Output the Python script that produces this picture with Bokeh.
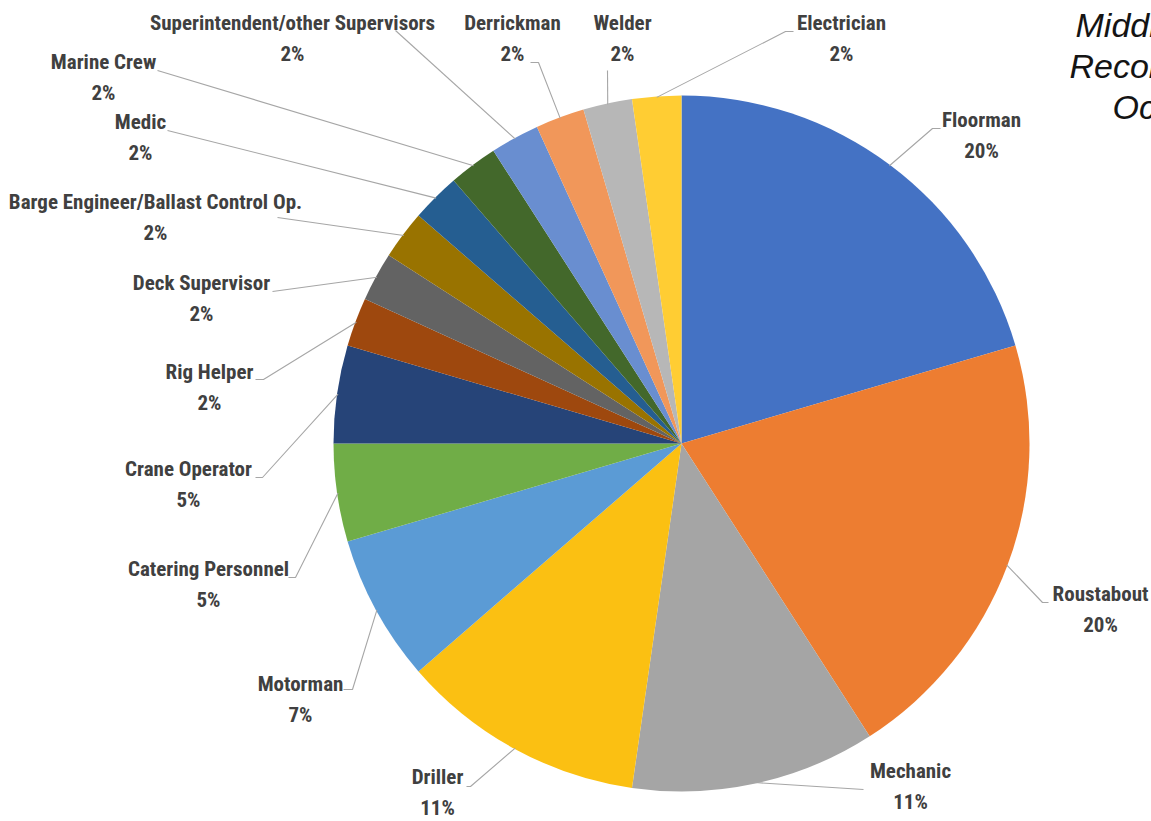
import math
from bokeh.plotting import figure
from bokeh.models import ColumnDataSource, Range1d
from bokeh.core.properties import value
from bokeh.embed import file_html
from bokeh.resources import INLINE

# ---------------- data ----------------
occupations = [
    "Floorman", "Roustabout", "Mechanic", "Driller", "Motorman",
    "Catering Personnel", "Crane Operator", "Rig Helper", "Deck Supervisor",
    "Barge Engineer/Ballast Control Op.", "Medic", "Marine Crew",
    "Superintendent/other Supervisors", "Derrickman", "Welder", "Electrician",
]
counts = [9, 9, 5, 5, 3, 2, 2, 1, 1, 1, 1, 1, 1, 1, 1, 1]
colors = [
    "#4472C4", "#ED7D31", "#A5A5A5", "#FBC012", "#5B9BD5", "#70AD47",
    "#264478", "#9E480E", "#636363", "#997300", "#255E91", "#43682B",
    "#698ED0", "#F1975A", "#B7B7B7", "#FFCD33",
]
title_lines = ["Middle East Offshore", "Recordable Incidents by", "Occupation"]

# ---------------- layout (page pixel coordinates) ----------------
W, H = 1151, 821
CX, CY, R = 681, 443, 348

label_x = [981, 1100, 910, 437, 300, 208, 188, 209, 201, 155, 140, 103, 292, 512, 622, 841]
name_base = [128, 602, 779, 785, 692, 577, 477, 380, 291, 210, 130, 70, 31, 31, 31, 31]
line_gap = 31
anchor_x = [940, 1048, 863, 466, 343, 288, 255, 255, 272, 277, 167, 157, 395, 530, 607, 793]
anchor_y = [128, 602, 789, 786, 689, 577, 477, 379, 291, 217, 130, 70, 30, 62, 70, 31]
elbow_x = [932, 1042, 863, 470, 352, 295, 262, 263, 272, 277, 167, 157, 395, 538, 607, 785]
elbow_y = [128, 602, 789, 786, 689, 577, 477, 379, 291, 217, 130, 70, 30, 62, 70, 31]
title_x = [1075, 1069, 1112]
title_base = [39, 80, 121]

LABEL_FONT = "'Roboto Condensed', 'DejaVu Sans Condensed', 'Liberation Sans Narrow', Roboto, sans-serif"
LABEL_SIZE = 21
TITLE_SIZE = 34
BASE_SHIFT = 0.42  # renderer places alphabetic text ~0.42em low; compensate


def fy(y):
    return H - y


total = sum(counts)
starts, ends, mids, pcts = [], [], [], []
cum = 0
for c in counts:
    t0 = 2 * math.pi * cum / total
    cum += c
    t1 = 2 * math.pi * cum / total
    starts.append(math.pi / 2 - t1)
    ends.append(math.pi / 2 - t0)
    mids.append((t0 + t1) / 2)
    pcts.append(f"{round(c / total * 100)}%")

p = figure(width=W, height=H, output_backend="svg", toolbar_location=None,
           x_range=Range1d(0, W), y_range=Range1d(0, H), min_border=0)
p.axis.visible = False
p.grid.visible = False
p.outline_line_color = None
p.background_fill_color = "white"
p.border_fill_color = "white"

wsrc = ColumnDataSource(dict(start=starts, end=ends, color=colors, name=occupations))
p.wedge(x=CX, y=fy(CY), radius=R, start_angle="start", end_angle="end",
        direction="anticlock", fill_color="color", line_color=None, source=wsrc)

# leader lines
xs, ys = [], []
for i, m in enumerate(mids):
    px = CX + (R - 1) * math.sin(m)
    py = CY - (R - 1) * math.cos(m)
    xs.append([anchor_x[i], elbow_x[i], px])
    ys.append([fy(anchor_y[i]), fy(elbow_y[i]), fy(py)])
p.multi_line(xs=xs, ys=ys, line_color="#A6A6A6", line_width=1.1)

# labels
ls = BASE_SHIFT * LABEL_SIZE
lsrc = ColumnDataSource(dict(
    x=label_x,
    yn=[fy(b - ls) for b in name_base],
    yp=[fy(b + line_gap - ls) for b in name_base],
    name=occupations, pct=pcts,
))
for col, field in (("yn", "name"), ("yp", "pct")):
    p.text(x="x", y=col, text=field, source=lsrc,
           text_font=value(LABEL_FONT), text_font_style="bold",
           text_font_size=f"{LABEL_SIZE}px", text_color="#404040",
           text_align="center", text_baseline="alphabetic")

# title (partly outside the visible area, as in the reference)
ts = BASE_SHIFT * TITLE_SIZE
p.text(x=title_x, y=[fy(b - ts) for b in title_base], text=title_lines,
       text_font=value("Liberation Sans"), text_font_style="italic",
       text_font_size=f"{TITLE_SIZE}px", text_color="#141414",
       text_align="left", text_baseline="alphabetic")

open("out.html", "w").write(file_html(p, INLINE))
